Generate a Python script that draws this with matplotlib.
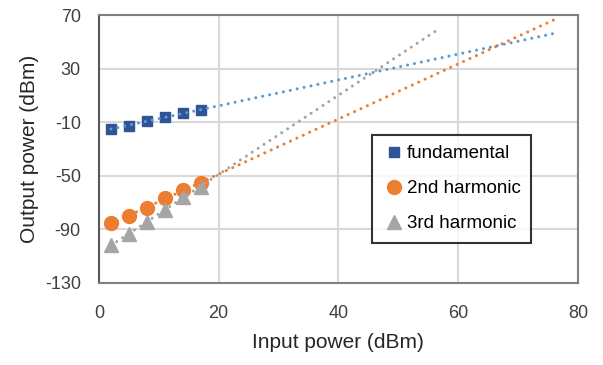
#!/usr/bin/env python3

import numpy as np
import matplotlib
matplotlib.use("Agg")
import matplotlib.pyplot as plt

# input power points (dBm)
inputPower = [2, 5, 8, 11, 14, 17]

# measured output power (dBm)
fundamental = [-15.1, -12.6, -8.9, -6.3, -3.4, -0.9]
secondHarmonic = [-85.6, -79.9, -73.7, -66.9, -60.7, -55.3]
thirdHarmonic = [-101.8, -93.6, -84.4, -75.7, -65.7, -58.3]

# where each linear trend line stops
trendEnd = [76.5, 76.8, 56.4]

labels = ["fundamental", "2nd harmonic", "3rd harmonic"]
xTicks = [0, 20, 40, 60, 80]
yTicks = [-130, -90, -50, -10, 30, 70]


def Main():
    plt.rcParams["font.family"] = ["Liberation Sans", "DejaVu Sans"]
    plt.rcParams["axes.unicode_minus"] = False

    fig = plt.figure(figsize=(6.03, 3.65), dpi=100)
    ax = fig.add_axes([0.164, 0.2247, 0.7945, 0.7342])

    series = [
        (fundamental, "s", 7.5, "#2F5597", "#5B9BD5"),
        (secondHarmonic, "o", 10, "#ED7D31", "#ED7D31"),
        (thirdHarmonic, "^", 10, "#A5A5A5", "#A5A5A5"),
    ]

    for (values, marker, size, color, lineColor), label, end in zip(series, labels, trendEnd):
        ax.plot(inputPower, values, linestyle="none", marker=marker,
                markersize=size, color=color, label=label, zorder=3)
        slope, offset = np.polyfit(inputPower, values, 1)
        xs = np.array([inputPower[0], end])
        ax.plot(xs, slope * xs + offset, linestyle=(0, (0.01, 2.3)), linewidth=2.2,
                color=lineColor, dash_capstyle="round", zorder=4)

    ax.set_xlim(0, 80)
    ax.set_ylim(-130, 70)
    ax.set_xticks(xTicks)
    ax.set_yticks(yTicks)
    ax.grid(True, color="#D9D9D9", linewidth=1.5)
    ax.set_axisbelow(True)
    ax.tick_params(length=0, labelsize=13, colors="#404040")
    ax.tick_params(axis="x", pad=16)
    ax.tick_params(axis="y", pad=13)

    for spine in ax.spines.values():
        spine.set_color("#808080")
        spine.set_linewidth(1.5)
    ax.spines["left"].set_color("#595959")

    ax.set_xlabel("Input power (dBm)", fontsize=15, color="#262626", labelpad=8)
    ax.set_ylabel("Output power (dBm)", fontsize=15, color="#262626", labelpad=4)

    legend = ax.legend(loc="upper left", bbox_to_anchor=(0.57, 0.552),
                       fontsize=13.5, frameon=True, fancybox=False,
                       borderpad=0.55, labelspacing=0.95, handletextpad=0.1,
                       handlelength=1.2, borderaxespad=0)
    legend.get_frame().set_edgecolor("black")
    legend.get_frame().set_linewidth(1.5)

    fig.savefig("out.png", dpi=100)


if __name__ == "__main__":
    Main()
